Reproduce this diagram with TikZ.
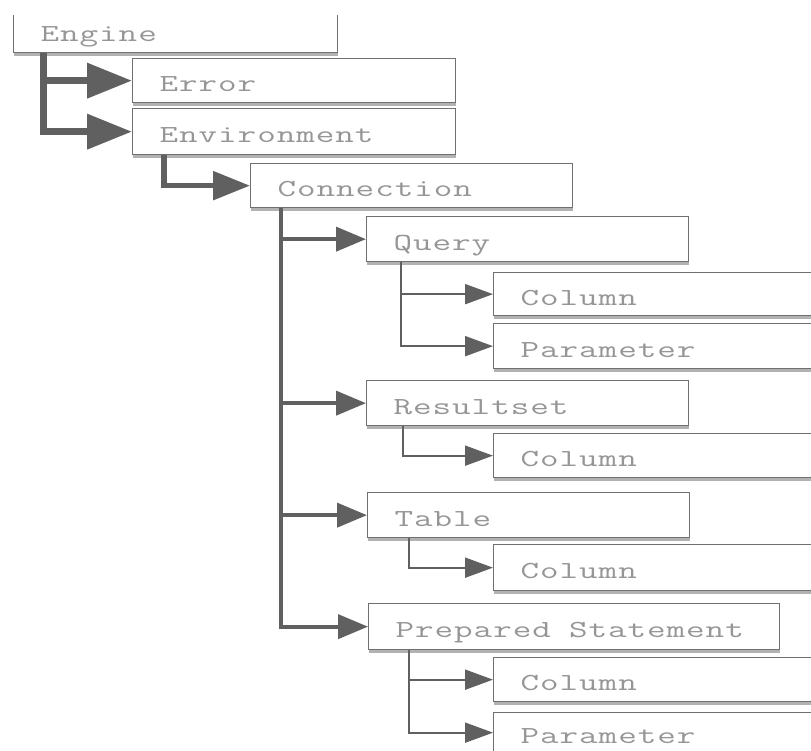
\documentclass[tikz,border=0pt]{standalone}
\usepackage{fontspec}
\setmonofont[FakeStretch=1.47,LetterSpace=4]{Latin Modern Mono}
\usetikzlibrary{arrows.meta,calc,shadows}
\definecolor{boxgray}{HTML}{707070}
\definecolor{txtgray}{HTML}{969696}
\definecolor{arrgray}{HTML}{606060}
\newcommand{\widegap}{\hspace{10pt}}
\tikzset{
  box/.style={draw=boxgray, line width=1.3pt, fill=white, anchor=north west,
    inner xsep=27pt, inner ysep=0pt, text height=22pt, text depth=0pt,
    align=left, text=txtgray, font=\ttfamily\fontsize{24.5}{24.5}\selectfont,
    drop shadow={shadow xshift=0pt, shadow yshift=-3pt, fill=black!30, opacity=1}},
  lvone/.style={draw=arrgray, line width=7pt, -{Triangle[length=45pt,width=34pt]}},
  lvtwo/.style={draw=arrgray, line width=5.5pt, -{Triangle[length=37pt,width=28pt]}},
  lvthree/.style={draw=arrgray, line width=4pt, -{Triangle[length=30pt,width=24pt]}},
  lvfour/.style={draw=arrgray, line width=2pt, -{Triangle[length=28pt,width=20pt]}},
}
\begin{document}
\begin{tikzpicture}[x=1pt, y=-1pt]
\useasboundingbox (0,0) rectangle (811,750);
\clip (0,15) rectangle (811,750);

% boxes of the object hierarchy
\node[box, text width=270pt, minimum height=45pt] (engine) at (13,7) {Engine};
\node[box, text width=269pt, minimum height=44pt] (error) at (132,58) {Error};
\node[box, text width=269pt, minimum height=46pt] (env) at (132,108) {Environment};
\node[box, text width=268pt, minimum height=44pt] (conn) at (250,163) {Connection};
\node[box, text width=268pt, minimum height=45pt] (query) at (366,216) {Query};
\node[box, text width=286pt, minimum height=43pt] (qcol) at (493,272) {Column};
\node[box, text width=286pt, minimum height=45pt] (qpar) at (493,323) {Parameter};
\node[box, text width=268pt, minimum height=45pt] (rs) at (366,380) {Resultset};
\node[box, text width=286pt, minimum height=44pt] (rscol) at (493,433) {Column};
\node[box, text width=268pt, minimum height=45pt] (tab) at (367,492) {Table};
\node[box, text width=286pt, minimum height=46pt] (tabcol) at (493,544) {Column};
\node[box, text width=357pt, minimum height=46pt] (ps) at (368,603) {Prepared\widegap{} Statement};
\node[box, text width=286pt, minimum height=44pt] (pscol) at (493,657) {Column};
\node[box, text width=286pt, minimum height=40pt] (pspar) at (493,712) {Parameter};

% connectors
\draw[lvone] ($(engine.south west)+(30,0)$) |- (error.west);
\draw[lvone] ($(engine.south west)+(30,0)$) |- (env.west);
\draw[lvtwo] ($(env.south west)+(32,0)$) |- (conn.west);
\draw[lvthree] ($(conn.south west)+(31,0)$) |- (query.west);
\draw[lvthree] ($(conn.south west)+(31,0)$) |- (rs.west);
\draw[lvthree] ($(conn.south west)+(31,0)$) |- (tab.west);
\draw[lvthree] ($(conn.south west)+(31,0)$) |- (ps.west);
\draw[lvfour] ($(query.south west)+(35,0)$) |- (qcol.west);
\draw[lvfour] ($(query.south west)+(35,0)$) |- (qpar.west);
\draw[lvfour] ($(rs.south west)+(37,0)$) |- (rscol.west);
\draw[lvfour] ($(tab.south west)+(42,0)$) |- (tabcol.west);
\draw[lvfour] ($(ps.south west)+(41,0)$) |- (pscol.west);
\draw[lvfour] ($(ps.south west)+(41,0)$) |- (pspar.west);
\end{tikzpicture}
\end{document}
